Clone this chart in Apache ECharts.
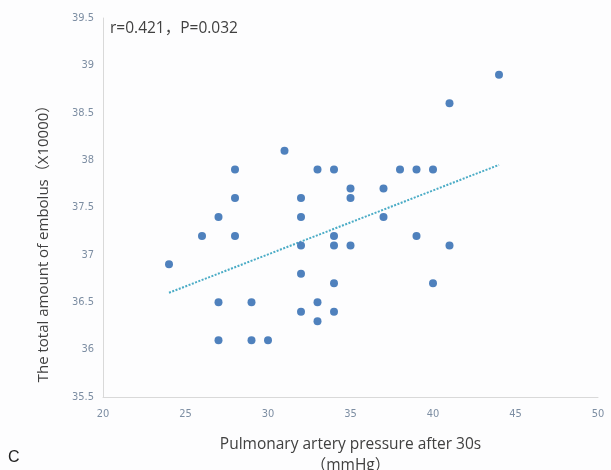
<!DOCTYPE html>
<html>
<head>
<meta charset="utf-8">
<script src="https://cdn.jsdelivr.net/npm/echarts@6/dist/echarts.min.js"></script>
<style>html,body{margin:0;padding:0;background:#fdfdfe;}#c{width:611px;height:470px;}</style>
</head>
<body>
<div id="c"></div>
<script>
var xValues = [24,26,27,27,27,28,28,28,29,29,30,31,32,32,32,32,32,33,33,33,34,34,34,34,34,35,35,35,37,37,38,39,39,40,40,41,41,44];
var yValues = [36.9,37.2,37.4,36.5,36.1,37.9,37.6,37.2,36.5,36.1,36.1,38.1,37.6,37.4,37.1,36.8,36.4,37.9,36.5,36.3,37.9,37.2,37.1,36.7,36.4,37.7,37.6,37.1,37.7,37.4,37.9,37.9,37.2,37.9,36.7,38.6,37.1,38.9];
var trendX = [24, 44];
var trendY = [36.6, 37.95];
var annotation = 'r=0.421，P=0.032';
var xTitle = 'Pulmonary artery pressure after 30s\n（mmHg）';
var yTitle = 'The total amount of embolus（X10000）';

var points = xValues.map(function(x, i){ return [x, yValues[i]]; });
var trend = trendX.map(function(x, i){ return [x, trendY[i]]; });

var FONT = '"Open Sans", "Noto Sans CJK SC", sans-serif';
var LABELCOLOR = '#7d8ea3';
var chart = echarts.init(document.getElementById('c'));
chart.setOption({
  backgroundColor: '#fdfdfe',
  animation: false,
  grid: {left: 103, right: 13, top: 18, bottom: 73, containLabel: false, outerBoundsMode: 'none'},
  xAxis: {
    type: 'value', min: 20, max: 50, interval: 5,
    name: xTitle,
    nameLocation: 'middle', nameGap: 37,
    nameTextStyle: {color: '#404040', fontSize: 15.5, lineHeight: 21, fontFamily: FONT},
    axisLine: {show: true, lineStyle: {color: '#d9d9d9', width: 1}},
    axisTick: {show: false},
    splitLine: {show: false},
    axisLabel: {color: LABELCOLOR, fontSize: 11, margin: 12, fontFamily: 'DejaVu Sans Condensed, Open Sans'}
  },
  yAxis: {
    type: 'value', min: 35.5, max: 39.5, interval: 0.5,
    axisLine: {show: true, lineStyle: {color: '#d9d9d9', width: 1}},
    axisTick: {show: false},
    splitLine: {show: false},
    axisLabel: {color: LABELCOLOR, fontSize: 11, margin: 9, fontFamily: 'DejaVu Sans Condensed, Open Sans'}
  },
  graphic: [
    {type: 'text', x: 44, y: 240, rotation: Math.PI / 2,
     style: {text: yTitle, fill: '#404040', fontSize: 15, fontFamily: FONT, align: 'center', verticalAlign: 'middle'}},
    {type: 'text', left: 110, top: 21, style: {text: annotation, fill: '#404040', fontSize: 15.5, fontFamily: FONT}},
    {type: 'text', left: 8, top: 450, style: {text: 'C', fill: '#222', fontSize: 16, fontFamily: 'Liberation Sans'}}
  ],
  series: [
    {type: 'line', data: trend, symbol: 'none', silent: true,
     lineStyle: {color: '#4bacc6', width: 2, type: [2, 1.5]}, z: 1},
    {type: 'scatter', data: points, symbolSize: 8,
     itemStyle: {color: '#4f81bd', opacity: 1}, z: 2}
  ]
});
</script>
</body>
</html>
